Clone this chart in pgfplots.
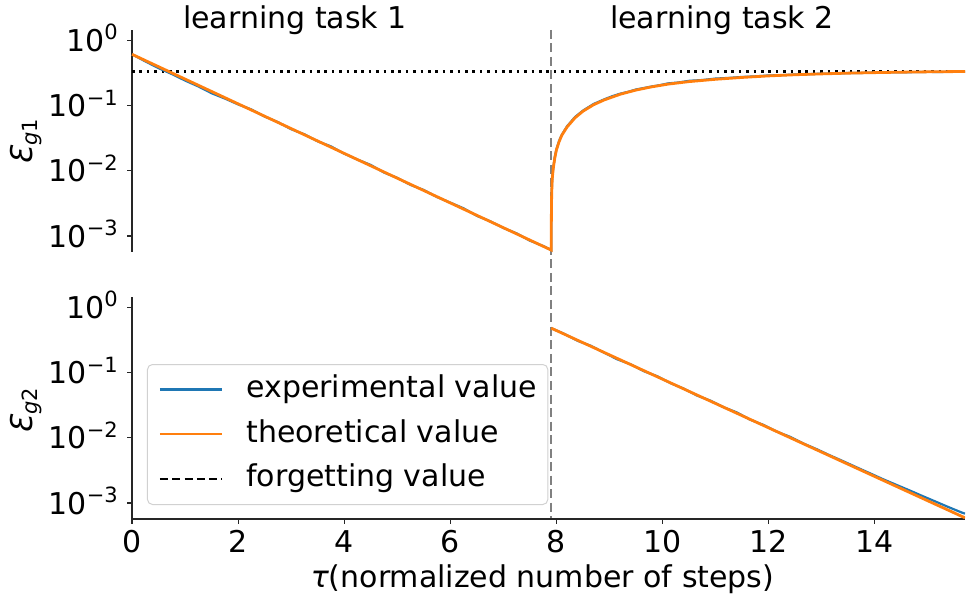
\documentclass[border=0pt]{standalone}
\usepackage{fontspec}
\setmainfont{DejaVu Sans}[ItalicFont={DejaVu Sans Oblique},BoldFont={DejaVu Sans Bold}]
\usepackage{pgfplots}
\pgfplotsset{compat=1.18}
\definecolor{mblue}{HTML}{1F77B4}
\definecolor{morange}{HTML}{FF7F0E}
\newcommand{\supx}[1]{\raisebox{11.5pt}{\fontsize{21}{24}\selectfont #1}}
\newcommand{\bigf}{\fontsize{30}{36}\selectfont}
\newcommand{\subx}[1]{\raisebox{-5pt}{\fontsize{21}{24}\selectfont #1}}
\pgfplotsset{
    width=833pt, height=222pt, scale only axis,
    tick align=outside, major tick length=5pt,
    every tick/.style={black!85, line width=1.2pt},
    axis line style={-, black!85, line width=1.2pt},
    tick label style={font=\bigf},
}
\pgfplotsset{/pgf/number format/assume math mode=true}
\begin{document}
\begin{tikzpicture}[font=\bigf]
\useasboundingbox (0,0) rectangle (966pt,601pt);
% top panel
\begin{axis}[at={(132pt,349pt)}, anchor=south west,
  ymode=log, xmin=0, xmax=15.7, ymin=5.7e-4, ymax=1.44,
  ytick={1,0.1,0.01,0.001},
  yticklabels={10\supx{0},10\supx{−1},10\supx{−2},10\supx{−3}},
  yminorticks=false,
  yticklabel style={anchor=base east, inner sep=0pt, xshift=-9pt, yshift=-11pt},
  axis y line*=left, hide x axis, ytick pos=left, clip=false]
\draw[black!50, line width=2.4pt, dash pattern=on 9pt off 4.5pt] (axis cs:7.9,1.44) -- ++(0pt,-489pt);
\addplot[black, line width=2.5pt, dash pattern=on 2.5pt off 4.9pt] coordinates {(0,0.335) (15.7,0.335)};
\addplot[mblue, line width=2.2pt] coordinates {
(0,0.611) (0.25,0.4763) (0.5,0.3749) (0.75,0.3044) (1.0,0.2421) (1.25,0.1966) (1.5,0.1547) (1.75,0.1282)
(2.0,0.1042) (2.25,0.0871) (2.5,0.0679) (2.75,0.0558) (3.0,0.0434) (3.25,0.0363) (3.5,0.0283) (3.75,0.0237)
(4.0,0.01832) (4.25,0.01486) (4.5,0.0123) (4.75,0.00941) (5.0,0.00779) (5.25,0.00608) (5.5,0.00508) (5.75,0.00396)
(6.0,0.00325) (6.25,0.00266) (6.5,0.00204) (6.75,0.00169) (7.0,0.00133) (7.25,0.0011) (7.5,0.00085) (7.75,0.000704)
(7.9,0.000611)
(7.905,0.0024) (7.91,0.0047) (7.92,0.0078) (7.94,0.0112) (7.97,0.0165) (8.0,0.0215) (8.05,0.0288) (8.1,0.0355)
(8.2,0.0482) (8.35,0.0668) (8.5,0.0838) (8.7,0.1058) (8.9,0.1245) (9.05,0.139) (9.2,0.152) (9.35,0.1625)
(9.5,0.1765) (9.65,0.186) (9.8,0.1965) (9.95,0.2055) (10.1,0.2185) (10.3,0.226) (10.5,0.2395) (10.75,0.2465)
(11.0,0.2595) (11.25,0.2655) (11.5,0.2745) (11.75,0.2805) (12.0,0.2895) (12.25,0.2925) (12.5,0.2995) (12.75,0.3025)
(13.0,0.3085) (13.25,0.3095) (13.5,0.3155) (13.75,0.3165) (14.0,0.3215) (14.25,0.3225) (14.5,0.3245) (14.75,0.3255)
(15.0,0.3285) (15.25,0.3275) (15.5,0.3315) (15.7,0.3305)
};
\addplot[morange, line width=2.8pt] coordinates {
(0,0.611) (1,0.2547) (2,0.1063) (3,0.04436) (4,0.01849) (5,0.00771) (6,0.00322) (7,0.001343) (7.9,0.000611)
(7.905,0.0025) (7.91,0.0045) (7.92,0.0075) (7.94,0.011) (7.97,0.016) (8.0,0.021) (8.05,0.028) (8.1,0.035)
(8.2,0.047) (8.35,0.065) (8.5,0.082) (8.7,0.103) (8.9,0.122) (9.2,0.149) (9.5,0.173) (9.8,0.194)
(10.1,0.213) (10.5,0.233) (11.0,0.253) (11.5,0.27) (12.0,0.285) (12.5,0.297) (13.0,0.306) (13.5,0.314)
(14.0,0.32) (14.5,0.325) (15.0,0.329) (15.7,0.333)
};
\end{axis}
% bottom panel
\begin{axis}[at={(132pt,82pt)}, anchor=south west,
  ymode=log, xmin=0, xmax=15.7, ymin=5.7e-4, ymax=1.44,
  ytick={1,0.1,0.01,0.001},
  yticklabels={10\supx{0},10\supx{−1},10\supx{−2},10\supx{−3}},
  yminorticks=false,
  yticklabel style={anchor=base east, inner sep=0pt, xshift=-9pt, yshift=-11pt},
  axis x line*=bottom, axis y line*=left, xtick pos=bottom, ytick pos=left,
  xtick={0,2,4,6,8,10,12,14},
  xticklabel style={anchor=north, inner sep=0pt, yshift=-6pt},
  legend image code/.code={\draw[#1] (0pt,8pt) -- (62pt,8pt);},
  legend style={at={(rel axis cs:0.018,0.063)}, anchor=south west,
    draw=black!18, line width=1pt, rounded corners=5pt, fill=white, fill opacity=0.8, text opacity=1,
    inner xsep=11pt, inner ysep=11pt, font=\bigf,
    row sep=15.5pt, column sep=23pt,
    nodes={inner sep=0pt, text height=22pt, text depth=7pt, anchor=base west}},
  legend cell align=left]
\addplot[mblue, line width=2.2pt] coordinates {
(7.9,0.48) (8.15,0.3912) (8.4,0.3063) (8.65,0.2571) (8.9,0.2014) (9.15,0.1592) (9.4,0.1337) (9.65,0.1047)
(9.9,0.0879) (10.15,0.0688) (10.4,0.0567) (10.65,0.0444) (10.9,0.0372) (11.15,0.02947) (11.4,0.02449) (11.65,0.01899)
(11.9,0.01579) (12.15,0.01249) (12.4,0.01037) (12.65,0.00821) (12.9,0.00672) (13.15,0.0054) (13.4,0.00439) (13.65,0.00355)
(13.9,0.00288) (14.15,0.00233) (14.4,0.00191) (14.65,0.00157) (14.9,0.00128) (15.15,0.00105) (15.4,0.00086) (15.65,0.00071)
(15.7,0.00069)
};
\addlegendentry{experimental value}
\addplot[morange, line width=2.8pt] coordinates {
(7.9,0.48) (9.9,0.0862) (11.9,0.01548) (13.9,0.00278) (15.7,0.000594)
};
\addlegendentry{theoretical value}
\addlegendimage{black, line width=2pt, dash pattern=on 8pt off 4.3pt}
\addlegendentry{forgetting value}
\end{axis}
% titles and labels
\node[anchor=base west, inner sep=0pt] at (183pt,572pt) {learning task 1};
\node[anchor=base west, inner sep=0pt] at (610pt,572pt) {learning task 2};
\node[anchor=base west, inner sep=0pt, rotate=90] at (32pt,435pt) {\textit{Ɛ}\subx{\textit{g}1}};
\node[anchor=base west, inner sep=0pt, rotate=90] at (32pt,166pt) {\textit{Ɛ}\subx{\textit{g}2}};
\node[anchor=base, inner sep=0pt] at (542.5pt,13pt) {\textit{τ}(normalized number of steps)};
\end{tikzpicture}
\end{document}
